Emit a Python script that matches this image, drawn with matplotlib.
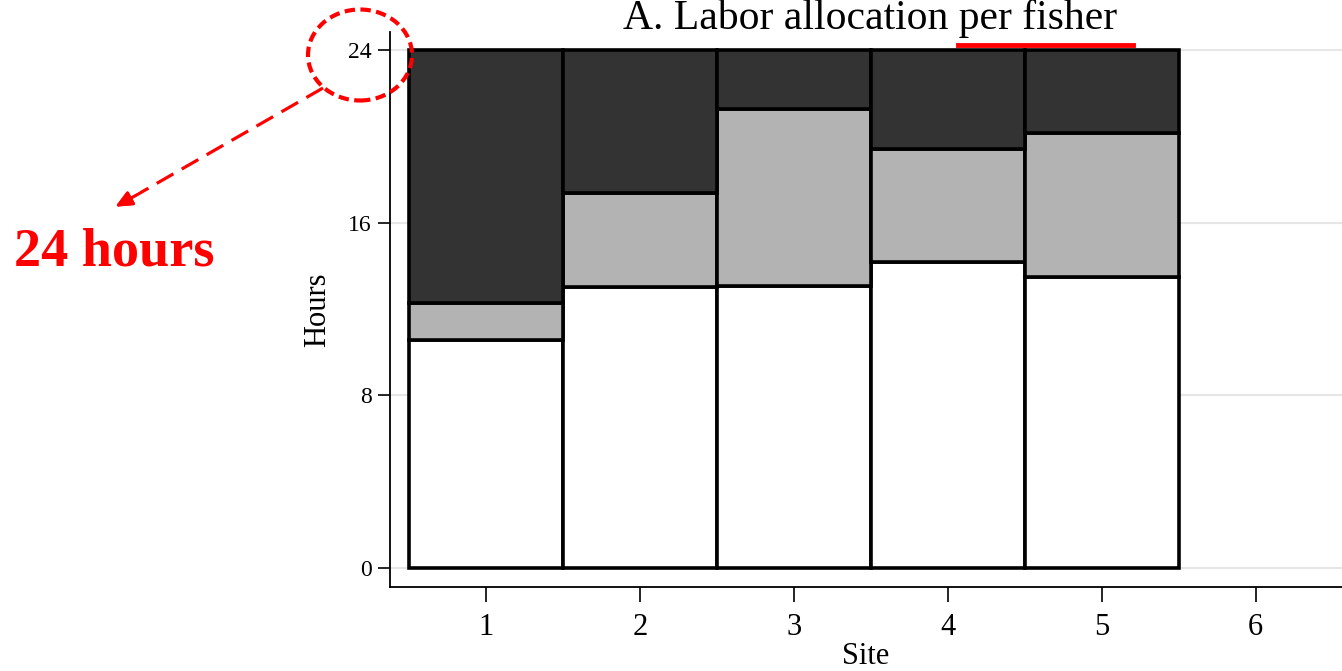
import matplotlib.pyplot as plt
from matplotlib.lines import Line2D
from matplotlib.patches import Ellipse
import numpy as np

plt.rcParams['font.family'] = ['Liberation Serif', 'DejaVu Serif']

sites = [1, 2, 3, 4, 5]
low = [10.54, 13.0, 13.06, 14.17, 13.46]
mid = [1.73, 4.38, 8.2, 5.24, 6.69]
top = [11.73, 6.62, 2.74, 4.59, 3.85]
yticks = [0, 8, 16, 24]
xticks = [1, 2, 3, 4, 5, 6]
title = 'A. Labor allocation per fisher'

W, H = 1342, 671
fig = plt.figure(figsize=(W / 100, H / 100), dpi=100)
ax = fig.add_axes([390 / W, 1 - 587 / H, 1 - 390 / W, (587 - 32) / H])

for v in yticks:
    ax.axhline(v, color='#e6e6e6', lw=1.5, zorder=0)

edge = dict(edgecolor='black', linewidth=2.6, width=1.0, zorder=2)
ax.bar(sites, low, color='white', **edge)
ax.bar(sites, mid, bottom=low, color='#b3b3b3', **edge)
ax.bar(sites, top, bottom=np.add(low, mid), color='#333333', **edge)

ax.set_xlim(0.377, 6.56)
ax.set_ylim(-0.88, 24.83)
ax.set_yticks(yticks)
ax.set_xticks(xticks)
ax.tick_params(axis='y', labelsize=17, length=9, width=1.2, pad=4)
ax.tick_params(axis='x', labelsize=22, length=11, width=1.2, pad=8)
for s in ['top', 'right']:
    ax.spines[s].set_visible(False)
for s in ['left', 'bottom']:
    ax.spines[s].set_linewidth(1.3)
ax.set_xlabel('Site', fontsize=22, labelpad=0)
ax.set_ylabel('Hours', fontsize=22, labelpad=12)

fig.text(870 / W, 1 - 29 / H, title, ha='center', va='baseline', fontsize=30)
fig.add_artist(Line2D([958 / W, 1133 / W], [1 - 45 / H, 1 - 45 / H],
                      transform=fig.transFigure, color='red', lw=3.5))

# red annotation
fig.add_artist(Ellipse((360 / W, 1 - 55 / H), 104 / W, 91 / H, transform=fig.transFigure,
                       fill=False, edgecolor='red', lw=3.0, linestyle=(0, (2.5, 1.3))))
fig.add_artist(Line2D([323 / W, 140 / W], [1 - 88 / H, 1 - 193 / H],
                      transform=fig.transFigure, color='red', lw=2.3, linestyle=(0, (6, 3))))
fig.add_artist(plt.annotate('', xy=(113 / W, 1 - 208 / H), xytext=(142 / W, 1 - 192 / H),
                            xycoords='figure fraction', textcoords='figure fraction',
                            arrowprops=dict(arrowstyle='-|>,head_length=1.0,head_width=0.45',
                                            color='red', lw=2.0)))
fig.text(14 / W, 1 - 252 / H, '24 hours', ha='left', va='center', fontsize=39,
         fontweight='bold', color='red')

fig.savefig('out.png', dpi=100)
